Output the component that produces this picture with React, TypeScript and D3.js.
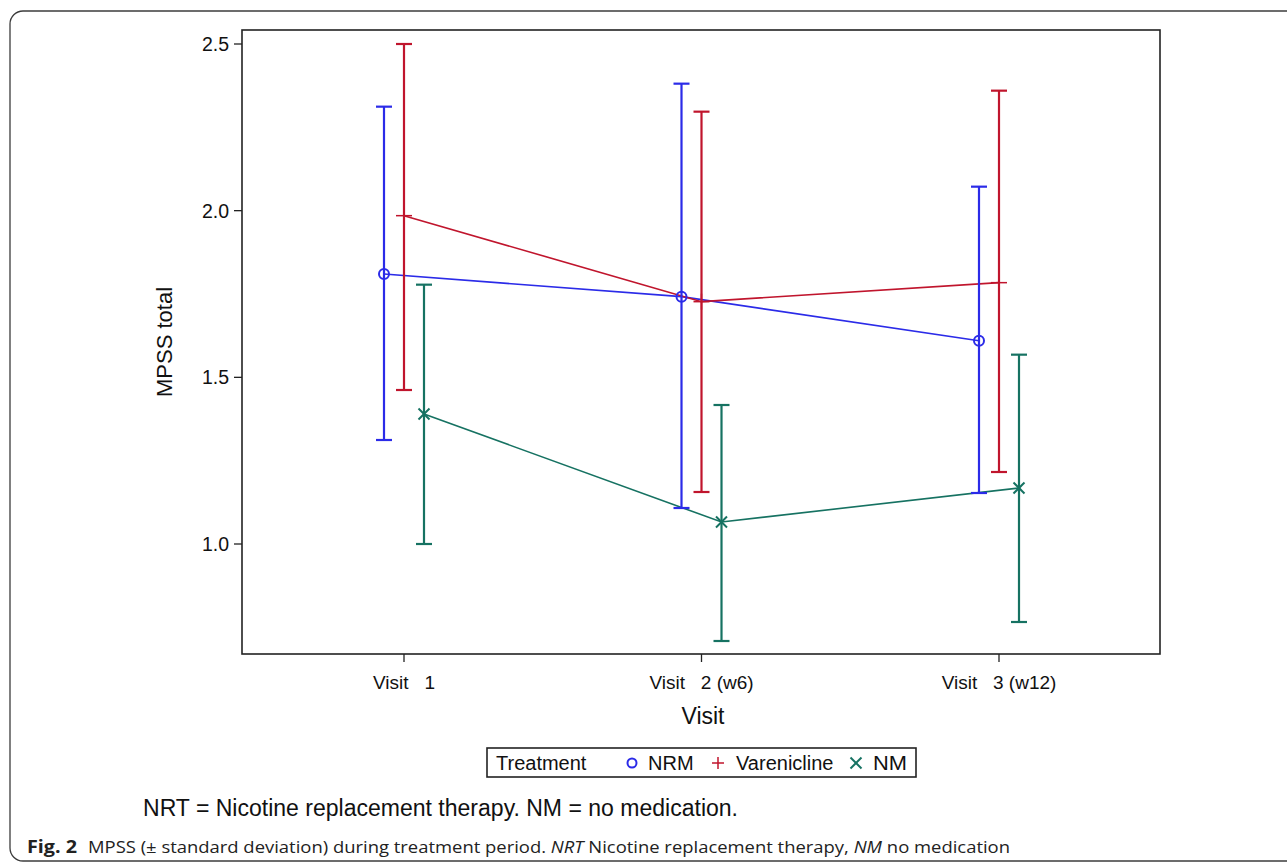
import React from 'react';
import * as d3 from 'd3';

const visits = ['Visit   1', 'Visit   2 (w6)', 'Visit   3 (w12)'];
const groups = ['NRM', 'Varenicline', 'NM'];
const yTicks = [1.0, 1.5, 2.0, 2.5];

// mean, lower, upper per visit
const nrmMean = [1.81, 1.742, 1.61];
const nrmLow = [1.312, 1.108, 1.153];
const nrmHigh = [2.312, 2.381, 2.072];

const varMean = [1.985, 1.727, 1.784];
const varLow = [1.462, 1.156, 1.216];
const varHigh = [2.5, 2.297, 2.36];

const nmMean = [1.39, 1.066, 1.168];
const nmLow = [1.0, 0.709, 0.766];
const nmHigh = [1.778, 1.417, 1.568];

const colors = ['#2b2be8', '#c0152d', '#167262'];

const App = () => {
  const width = 1287;
  const height = 862;
  const frame = { left: 242, right: 1160, top: 30, bottom: 654 };

  const y = d3.scaleLinear().domain([1, 2.5]).range([544, 44]);
  const x = d3.scalePoint().domain(visits).range([404, 999]);
  const offset = d3.scalePoint().domain(groups).range([-20, 20]);

  const series = [
    { name: groups[0], mean: nrmMean, low: nrmLow, high: nrmHigh, color: colors[0] },
    { name: groups[1], mean: varMean, low: varLow, high: varHigh, color: colors[1] },
    { name: groups[2], mean: nmMean, low: nmLow, high: nmHigh, color: colors[2] },
  ];

  const line = d3.line<number>()
    .x((_, i) => x(visits[i])!)
    .y(d => y(d));

  const font = '"Liberation Sans", Arial, sans-serif';
  const cap = 8;

  const marker = (name: string, cx: number, cy: number, color: string, s = 1) => {
    if (name === 'NRM') {
      return <circle cx={cx} cy={cy} r={5 * s} fill="none" stroke={color} strokeWidth={2} />;
    }
    if (name === 'Varenicline') {
      return (
        <g stroke={color} strokeWidth={1.5}>
          <line x1={cx - 8 * s} x2={cx + 8 * s} y1={cy} y2={cy} />
          <line x1={cx} x2={cx} y1={cy - 8 * s} y2={cy + 8 * s} />
        </g>
      );
    }
    return (
      <g stroke={color} strokeWidth={2}>
        <line x1={cx - 5.5 * s} x2={cx + 5.5 * s} y1={cy - 5.5 * s} y2={cy + 5.5 * s} />
        <line x1={cx - 5.5 * s} x2={cx + 5.5 * s} y1={cy + 5.5 * s} y2={cy - 5.5 * s} />
      </g>
    );
  };

  return (
    <svg width={width} height={height} style={{ position: 'absolute', left: 0, top: 0 }} fontFamily={font}>
      <rect x={0} y={0} width={width} height={height} fill="#fff" />
      <rect x={10} y={11} width={1300} height={850} rx={13} fill="none" stroke="#3c3c3c" strokeWidth={1.3} />

      {/* frame */}
      <rect x={frame.left} y={frame.top} width={frame.right - frame.left} height={frame.bottom - frame.top}
        fill="none" stroke="#222" strokeWidth={1.6} />

      {/* y axis */}
      {yTicks.map(t => (
        <g key={t}>
          <line x1={frame.left - 8} x2={frame.left} y1={y(t)} y2={y(t)} stroke="#222" strokeWidth={1.3} />
          <text x={frame.left - 13} y={y(t) + 7} textAnchor="end" fontSize={19.5} fill="#111">{t.toFixed(1)}</text>
        </g>
      ))}
      <text transform={`translate(172, ${(frame.top + frame.bottom) / 2}) rotate(-90)`} textAnchor="middle"
        fontSize={22} fill="#111">MPSS total</text>

      {/* x axis */}
      {visits.map(v => (
        <g key={v}>
          <line x1={x(v)} x2={x(v)} y1={frame.bottom} y2={frame.bottom + 8} stroke="#222" strokeWidth={1.3} />
          <text x={x(v)} y={689} textAnchor="middle" fontSize={19} fill="#111" style={{ whiteSpace: 'pre' }}>{v}</text>
        </g>
      ))}
      <text x={703} y={724} textAnchor="middle" fontSize={23} fill="#111">Visit</text>

      {/* connecting lines */}
      {series.map(s => (
        <path key={`l-${s.name}`} d={line(s.mean)!} fill="none" stroke={s.color} strokeWidth={1.6}
          transform={`translate(${offset(s.name)}, 0)`} />
      ))}

      {/* error bars and markers */}
      {series.map(s => (
        <g key={`e-${s.name}`} stroke={s.color}>
          {visits.map((v, i) => {
            const cx = x(v)! + offset(s.name)!;
            return (
              <g key={v}>
                <line x1={cx} x2={cx} y1={y(s.low[i])} y2={y(s.high[i])} strokeWidth={2.2} />
                <line x1={cx - cap} x2={cx + cap} y1={y(s.low[i])} y2={y(s.low[i])} strokeWidth={2.2} />
                <line x1={cx - cap} x2={cx + cap} y1={y(s.high[i])} y2={y(s.high[i])} strokeWidth={2.2} />
                {marker(s.name, cx, y(s.mean[i]), s.color)}
              </g>
            );
          })}
        </g>
      ))}

      {/* legend */}
      <rect x={487} y={748} width={429} height={29} fill="none" stroke="#222" strokeWidth={1.6} />
      <text x={496} y={770} fontSize={20} fill="#111">Treatment</text>
      {marker('NRM', 632, 763, colors[0], 0.9)}
      <text x={648} y={770} fontSize={20} fill="#111">NRM</text>
      {marker('Varenicline', 718, 763, colors[1], 0.75)}
      <text x={736} y={770} fontSize={20} fill="#111">Varenicline</text>
      {marker('NM', 856, 763, colors[2], 1)}
      <text x={873} y={770} fontSize={20} fill="#111" textLength={34} lengthAdjust="spacingAndGlyphs">NM</text>

      {/* footnote */}
      <text x={143} y={816} fontSize={23} fill="#111" textLength={595} lengthAdjust="spacingAndGlyphs">
        NRT = Nicotine replacement therapy. NM = no medication.
      </text>

      {/* caption */}
      <text x={27} y={853} fontSize={17} fontWeight="bold" fill="#222" fontFamily='"Open Sans", sans-serif'
        textLength={50} lengthAdjust="spacingAndGlyphs">Fig. 2</text>
      <text x={88} y={853} fontSize={17} fill="#222" fontFamily='"Open Sans", sans-serif'
        textLength={922} lengthAdjust="spacingAndGlyphs">
        MPSS (± standard deviation) during treatment period. <tspan fontStyle="italic">NRT</tspan> Nicotine replacement therapy, <tspan fontStyle="italic">NM</tspan> no medication
      </text>
    </svg>
  );
};

export default App;
